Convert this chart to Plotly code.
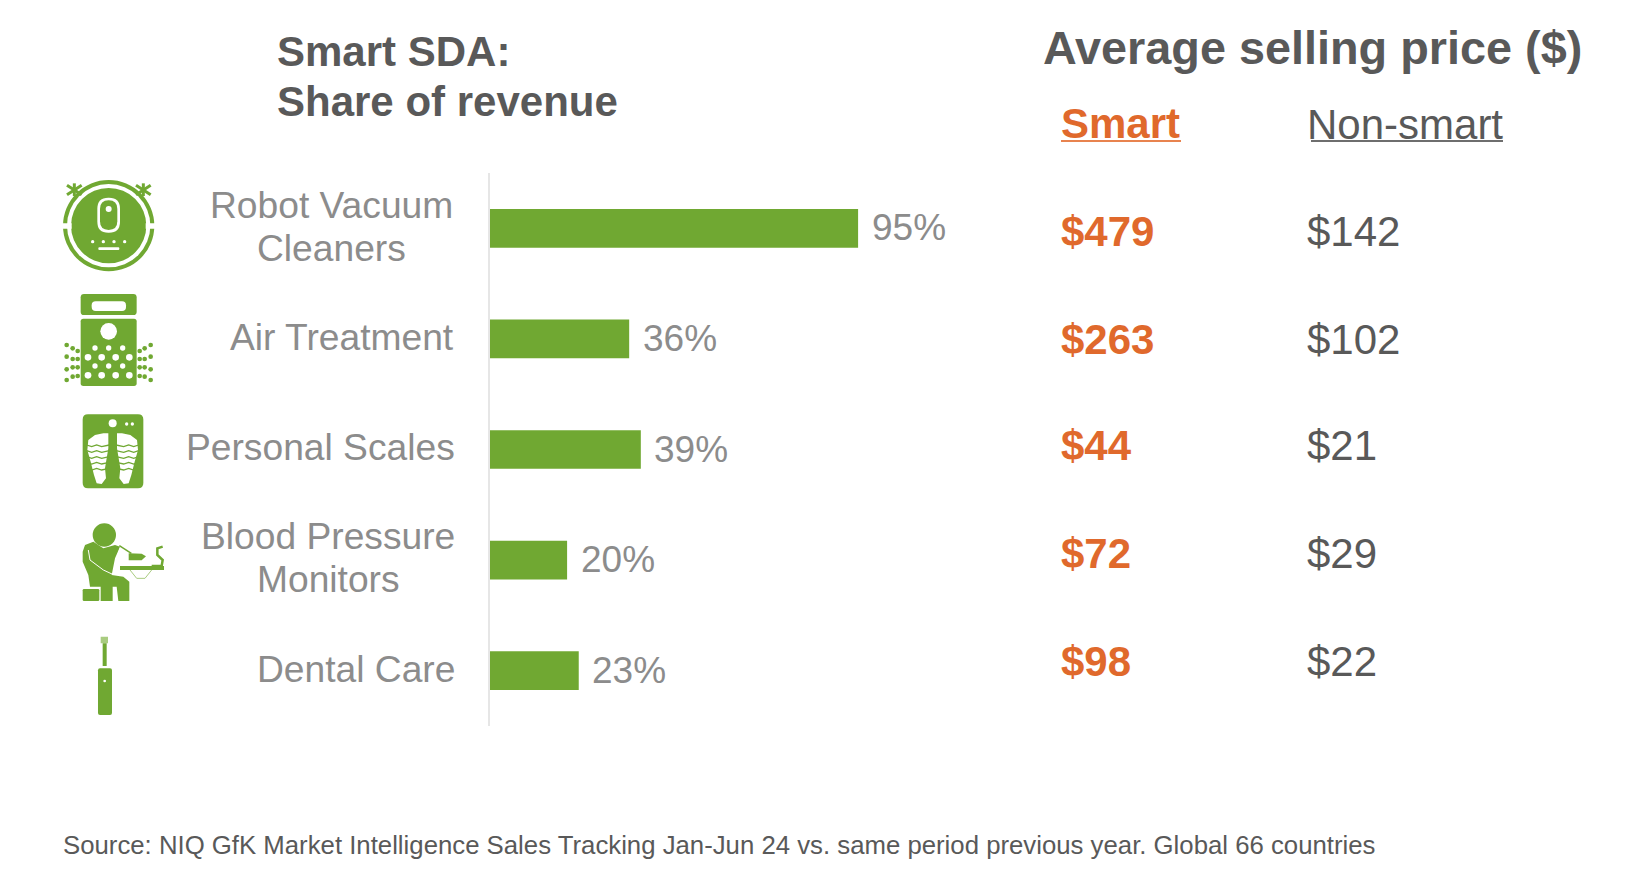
"""Smart SDA: share of revenue and average selling price"""

import plotly.graph_objects as go

W, H = 1652, 882
# страница plotly имеет отступ body 8px
PAGE = 8

categories = ['Robot Vacuum<br>Cleaners', 'Air Treatment', 'Personal Scales',
              'Blood Pressure<br>Monitors', 'Dental Care']
share_pct = [95, 36, 39, 20, 23]
smart_price = [479, 263, 44, 72, 98]
nonsmart_price = [142, 102, 21, 29, 22]

GREEN = '#70a832'
LIGHT_GREEN = '#a9cc80'
ORANGE = '#e0692c'
DARK = '#595959'
GREY = '#8c8c8c'
FONT = 'Liberation Sans'


def px(x):
    return (x - PAGE) / (W - PAGE)


def py(y):
    return 1 - (y - PAGE) / (H - PAGE)


shapes = []
annotations = []


def text(x, y, s, size, color=DARK, bold=False, anchor='left'):
    annotations.append(dict(xref='paper', yref='paper', x=px(x), y=py(y), text=f'<b>{s}</b>' if bold else s,
                            showarrow=False, xanchor=anchor, yanchor='middle', borderpad=0,
                            font=dict(family=FONT, size=size, color=color)))


def underline(x0, x1, y, color):
    shapes.append(dict(type='line', xref='paper', yref='paper', x0=px(x0), x1=px(x1), y0=py(y), y1=py(y),
                       line=dict(color=color, width=1.8)))


# иконки: координаты в 3x от начала (ox, oy)
def path(ox, oy, pts, color=GREEN, closed=True, width=0):
    d = ''
    for i, (a, b) in enumerate(pts):
        d += ('M' if i == 0 else 'L') + f'{px(ox + a / 3):.5f},{py(oy + b / 3):.5f} '
    if closed:
        d += 'Z'
    shapes.append(dict(type='path', xref='paper', yref='paper', path=d,
                       fillcolor=color if closed else 'rgba(0,0,0,0)',
                       line=dict(color=color, width=width)))


def circle(ox, oy, cx, cy, r, color=GREEN, ry=None):
    ry = ry or r
    shapes.append(dict(type='circle', xref='paper', yref='paper',
                       x0=px(ox + (cx - r) / 3), x1=px(ox + (cx + r) / 3),
                       y0=py(oy + (cy + ry) / 3), y1=py(oy + (cy - ry) / 3),
                       fillcolor=color, line=dict(width=0)))


def rect(ox, oy, x0, y0, x1, y1, color=GREEN, r=0):
    c = r
    a = [px(ox + v / 3) for v in (x0, x0 + c, x1 - c, x1)]
    b = [py(oy + v / 3) for v in (y0, y0 + c, y1 - c, y1)]
    d = (f'M{a[1]:.5f},{b[0]:.5f} L{a[2]:.5f},{b[0]:.5f} Q{a[3]:.5f},{b[0]:.5f} {a[3]:.5f},{b[1]:.5f} '
         f'L{a[3]:.5f},{b[2]:.5f} Q{a[3]:.5f},{b[3]:.5f} {a[2]:.5f},{b[3]:.5f} '
         f'L{a[1]:.5f},{b[3]:.5f} Q{a[0]:.5f},{b[3]:.5f} {a[0]:.5f},{b[2]:.5f} '
         f'L{a[0]:.5f},{b[1]:.5f} Q{a[0]:.5f},{b[0]:.5f} {a[1]:.5f},{b[0]:.5f} Z')
    shapes.append(dict(type='path', xref='paper', yref='paper', path=d, fillcolor=color, line=dict(width=0)))


def robot_icon():
    o = (40, 160)
    circle(*o, 206, 197, 137)
    circle(*o, 206, 197, 125, 'white')
    circle(*o, 206, 197, 113)
    rect(*o, 60, 190, 95, 206, 'white')
    rect(*o, 317, 190, 352, 206, 'white')
    rect(*o, 172, 113, 240, 218, 'white', 33)
    rect(*o, 180, 121, 232, 210, GREEN, 26)
    circle(*o, 206, 147, 9, 'white')
    for dot_x in (158, 190, 222, 254):
        circle(*o, dot_x, 245, 5, 'white')
    rect(*o, 175, 262, 238, 270, 'white', 3)
    for cx in (103, 310):
        for dx, dy in ((-22, -14), (22, 14), (-22, 14), (22, -14), (0, -20), (0, 18)):
            path(*o, [(cx, 90), (cx + dx, 90 + dy)], closed=False, width=3)


def air_icon():
    o = (40, 160)
    rect(*o, 122, 402, 290, 465, GREEN, 10)
    rect(*o, 155, 424, 258, 453, 'white', 12)
    rect(*o, 122, 476, 290, 678, GREEN, 8)
    circle(*o, 206, 514, 25, 'white')
    for row_y, xs, r in ((564, (165, 206, 248), 8), (592, (144, 185, 227, 268), 10),
                         (618, (165, 206, 248), 8), (646, (144, 185, 227, 268), 10)):
        for x in xs:
            circle(*o, x, row_y, r, 'white')
    for x, y in ((80, 555), (98, 565), (113, 573), (80, 590), (98, 597), (113, 597),
                 (80, 628), (98, 622), (113, 622), (80, 660), (98, 650), (113, 648)):
        circle(*o, x, y, 7)
        circle(*o, 412 - x, y, 7)


def scale_icon():
    o = (70, 405)
    rect(*o, 38, 28, 220, 250, GREEN, 16)
    circle(*o, 128, 55, 12, 'white')
    circle(*o, 170, 57, 5, 'white')
    circle(*o, 187, 57, 5, 'white')
    foot = [(115, 85), (115, 130), (105, 190), (108, 220), (95, 237), (80, 235), (72, 210),
            (62, 170), (52, 135), (55, 105), (75, 90), (100, 85)]
    path(*o, foot, 'white')
    path(*o, [(256 - a, b) for a, b in foot], 'white')
    for y in (120, 137, 155, 172, 190):
        wave = [(50, y), (65, y + 5), (80, y), (95, y + 5), (118, y)]
        path(*o, wave, closed=False, width=1.3)
        path(*o, [(256 - a, b) for a, b in wave], closed=False, width=1.3)


def bp_icon():
    o = (70, 515)
    circle(*o, 103, 60, 35)
    path(*o, [(38, 110), (45, 90), (70, 80), (100, 100), (135, 90), (150, 95), (135, 130), (125, 180),
              (160, 185), (178, 200), (178, 258), (145, 258), (140, 215), (128, 215), (128, 258),
              (92, 258), (92, 215), (60, 215), (55, 180), (38, 140)])
    rect(*o, 38, 222, 88, 258, GREEN, 4)
    # манжета: белая с зеленым контуром, кисть зеленая
    path(*o, [(150, 96), (182, 116), (180, 136), (140, 125)], 'white')
    path(*o, [(148, 92), (184, 115)], closed=False, width=1.5)
    path(*o, [(176, 115), (215, 116), (228, 124), (215, 136), (176, 136)])
    path(*o, [(55, 105), (60, 135), (100, 165), (128, 178)], 'white', closed=False, width=1)
    rect(*o, 150, 153, 282, 165)
    path(*o, [(180, 165), (200, 190), (225, 190), (245, 165)], LIGHT_GREEN, closed=False, width=1)
    path(*o, [(245, 153), (275, 153), (278, 135), (262, 120), (262, 100), (278, 95)], closed=False, width=2.5)


def brush_icon():
    o = (40, 450)
    rect(*o, 182, 560, 204, 580, LIGHT_GREEN)
    rect(*o, 188, 580, 200, 648)
    rect(*o, 174, 655, 216, 795, GREEN, 6)
    circle(*o, 194, 693, 4, 'white')


robot_icon()
air_icon()
scale_icon()
bp_icon()
brush_icon()

# бары
fig = go.Figure(go.Bar(x=share_pct, y=categories, orientation='h', marker=dict(color=GREEN, line=dict(width=0)),
                       width=0.35, hoverinfo='skip'))

# подписи категорий: каждая строка отдельно, межстрочный интервал уже чем у plotly
label_x = [331, 455, 456, 328, 456]
label_dy = [1.5, 2, 3, 2, 2]
for cat, lx, dy in zip(categories, label_x, label_dy):
    lines = cat.split('<br>')
    for i, line in enumerate(lines):
        shift = (len(lines) - 1) * 22 - i * 43 + dy
        annotations.append(dict(xref='paper', yref='y', x=px(lx), y=cat,
                                text=line, showarrow=False, yshift=shift, borderpad=0,
                                xanchor='right' if len(lines) == 1 else 'center', yanchor='middle',
                                font=dict(family=FONT, size=37.2, color=GREY)))

# подписи значений
for cat, val in zip(categories, share_pct):
    annotations.append(dict(xref='x', yref='y', x=val, y=cat, text=f'{val}%', showarrow=False, xanchor='left',
                            xshift=12.5, yshift=0.5, yanchor='middle', borderpad=0,
                            font=dict(family=FONT, size=37, color=GREY)))

text(276, 52, 'Smart SDA:', 42, bold=True)
text(276, 102, 'Share of revenue', 42, bold=True)
text(1042, 48.5, 'Average selling price ($)', 46.8, bold=True)
text(1060, 123.5, 'Smart', 42, ORANGE, bold=True)
text(1306, 124, 'Non-smart', 42, DARK)
underline(1061, 1181, 141, '#e8834f')
underline(1311, 1503, 141, '#6e6e6e')

price_y = [231, 339, 445, 553, 661]
for y, s, n in zip(price_y, smart_price, nonsmart_price):
    text(1060, y, f'${s}', 42, ORANGE, bold=True)
    text(1306, y, f'${n}', 42, DARK)

text(62, 845, 'Source: NIQ GfK Market Intelligence Sales Tracking Jan-Jun 24 vs. same period previous year. '
              'Global 66 countries', 25.75, DARK)

fig.update_layout(
    width=W - PAGE, height=H - PAGE, margin=dict(l=0, r=0, t=0, b=0, pad=0),
    paper_bgcolor='white', plot_bgcolor='white', showlegend=False,
    xaxis=dict(domain=[px(489.5), px(877.5)], range=[0, 100], visible=False, fixedrange=True),
    yaxis=dict(domain=[py(726), py(173)], type='category', autorange='reversed', showticklabels=False, ticks='',
               showgrid=False, zeroline=False, showline=True, linecolor='#e6e6e6', linewidth=2, fixedrange=True),
    shapes=shapes, annotations=annotations,
)

fig.write_html("out.html")
